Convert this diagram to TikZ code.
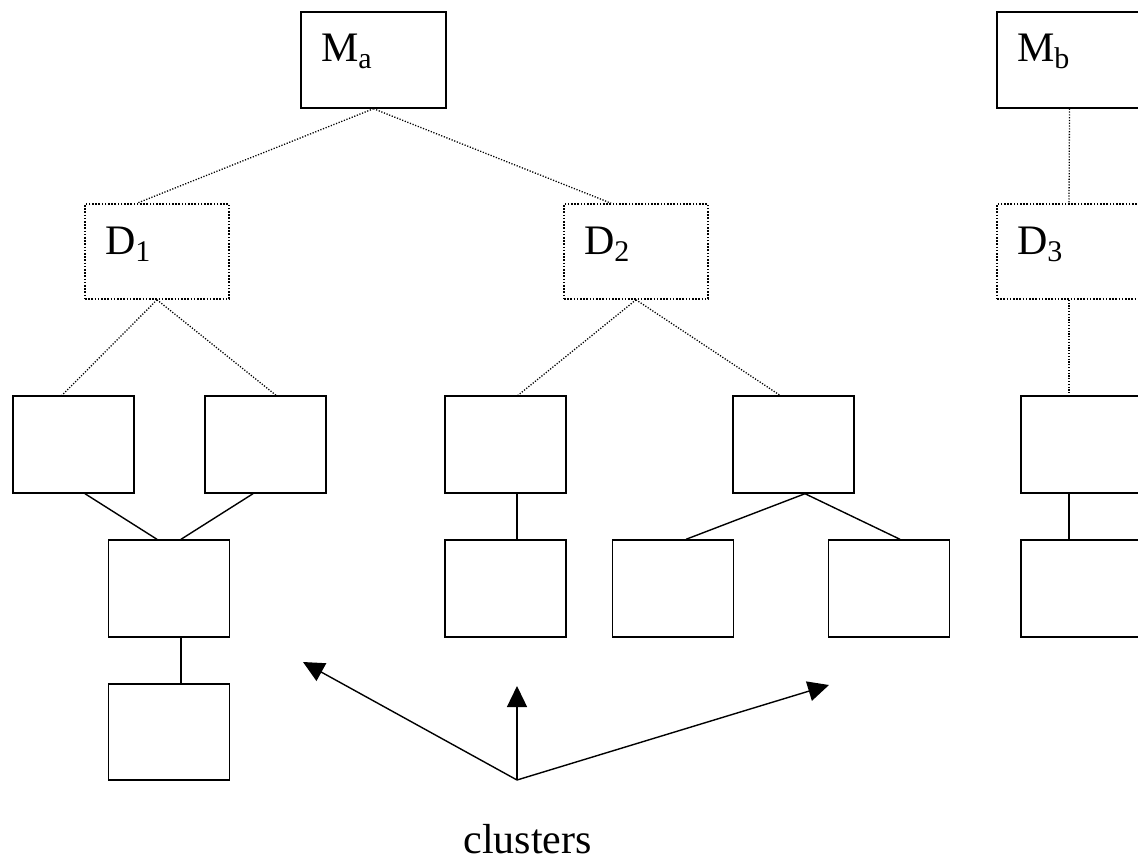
\documentclass[tikz,border=0pt]{standalone}
\usepackage{fontspec}
\setmainfont{Liberation Serif}
\usetikzlibrary{arrows.meta}
\newcommand{\sublbl}[2]{#1\raisebox{-3.5pt}{\fontsize{15}{15}\selectfont #2}}
\begin{document}
\begin{tikzpicture}[x=0.5pt,y=-0.5pt,
  box/.style={draw, line width=0.7pt, minimum width=60.5pt, minimum height=48.5pt, inner sep=0pt},
  topbox/.style={draw, line width=0.7pt, minimum width=72.5pt, minimum height=48pt,
    inner xsep=10pt, inner ysep=0pt, text width=52.5pt, align=left,
    text height=12pt, text depth=10pt, font=\fontsize{21}{25}\selectfont},
  dbox/.style={topbox, line width=0.8pt, dash pattern=on 0.8pt off 0.8pt, minimum width=72pt,
    text width=52pt, minimum height=47.5pt, text depth=9pt},
  dotline/.style={line width=0.65pt, dash pattern=on 0.6pt off 0.8pt},
  link/.style={line width=0.7pt},
  arr/.style={line width=0.7pt, -{Triangle[length=10.5pt,width=10pt]}}]
\useasboundingbox (0,0) rectangle (1138,861);
\clip (0,0) rectangle (1138,861);
% top level
\node[topbox] (Ma) at (373.5,60) {\sublbl{M}{a}};
\node[topbox] (Mb) at (1069.5,60) {\sublbl{M}{b}};
% second level
\node[dbox] (D1) at (157,251.5) {\sublbl{D}{1}};
\node[dbox] (D2) at (636,251.5) {\sublbl{D}{2}};
\node[dbox] (D3) at (1069,251.5) {\sublbl{D}{3}};
% third row
\node[box] (A1) at (73.5,444.5) {};
\node[box] (A2) at (265.5,444.5) {};
\node[box] (B1) at (505.5,444.5) {};
\node[box] (B2) at (793.5,444.5) {};
\node[box] (C1) at (1081.5,444.5) {};
% fourth row
\node[box] (A3) at (169,588.5) {};
\node[box] (B3) at (505.5,588.5) {};
\node[box] (B4) at (673,588.5) {};
\node[box] (B5) at (889,588.5) {};
\node[box] (C2) at (1081.5,588.5) {};
% fifth row
\node[box, minimum height=48pt] (A4) at (169,732) {};
% dotted connectors
\draw[dotline] (Ma.south) -- ([xshift=-10pt]D1.north);
\draw[dotline] (Ma.south) -- ([xshift=-12.5pt]D2.north);
\draw[dotline] (Mb.south) -- (D3.north);
\draw[dotline] (D1.south) -- ([xshift=-5.75pt]A1.north);
\draw[dotline] (D1.south) -- ([xshift=5.25pt]A2.north);
\draw[dotline] (D2.south) -- ([xshift=6.25pt]B1.north);
\draw[dotline] (D2.south) -- ([xshift=-6.75pt]B2.north);
\draw[dotline] (D3.south) -- ([xshift=-6.25pt]C1.north);
% solid connectors
\draw[link] ([xshift=5.75pt]A1.south) -- ([xshift=-6pt]A3.north);
\draw[link] ([xshift=-6.25pt]A2.south) -- ([xshift=6pt]A3.north);
\draw[link] ([xshift=6pt]A3.south) -- ([xshift=6pt]A4.north);
\draw[link] ([xshift=5.75pt]B1.south) -- ([xshift=5.75pt]B3.north);
\draw[link] ([xshift=5.75pt]B2.south) -- ([xshift=6.5pt]B4.north);
\draw[link] ([xshift=5.75pt]B2.south) -- ([xshift=5.5pt]B5.north);
\draw[link] ([xshift=-6.25pt]C1.south) -- ([xshift=-6.25pt]C2.north);
% arrows
\coordinate (o) at (517,780);
\coordinate (t1) at (303,662);
\coordinate (t2) at (517,686);
\coordinate (t3) at (829,685);
\draw[arr] (o) -- (t1);
\draw[arr] (o) -- (t2);
\draw[arr] (o) -- (t3);
\node[anchor=base, font=\fontsize{21}{25}\selectfont, inner sep=0pt] (lbl) at (527.5,853) {clusters};
\end{tikzpicture}
\end{document}
